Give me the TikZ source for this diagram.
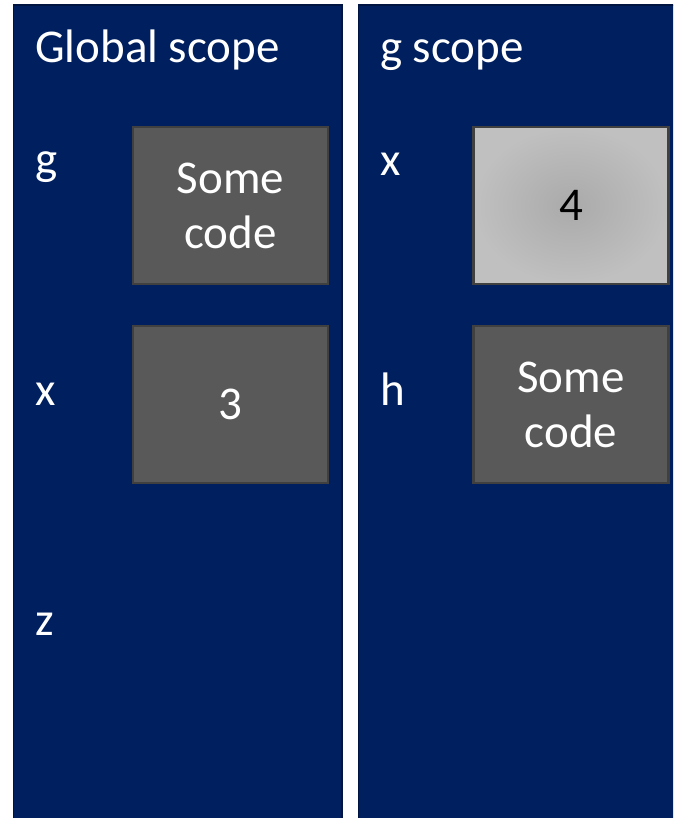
\documentclass[tikz,border=0pt]{standalone}
\usepackage{fontspec}
\setmainfont{Carlito}
\definecolor{panelblue}{RGB}{0,31,94}
\definecolor{paneledge}{RGB}{0,20,66}
\definecolor{boxgray}{RGB}{89,89,89}
\definecolor{boxedge}{RGB}{64,64,64}
\definecolor{lightin}{RGB}{170,170,170}
\definecolor{lightout}{RGB}{192,192,192}
\tikzset{
  panel/.style={fill=panelblue, draw=paneledge, line width=1.5pt},
  valbox/.style={draw=boxedge, fill=boxgray, line width=2.5pt, minimum width=195pt, minimum height=157pt, inner sep=0pt, text=white, align=center, font=\fontsize{47}{55}\selectfont},
  litbox/.style={valbox, fill=none, shading=radial, inner color=lightin, outer color=lightout, text=black},
  lbl/.style={anchor=base west, inner sep=0pt, text=white, font=\fontsize{47}{55}\selectfont}
}
\begin{document}
\begin{tikzpicture}[x=1pt,y=1pt]
\useasboundingbox (0,0) rectangle (673,818);
\clip (0,0) rectangle (673,818);
% panels
\draw[panel] (13.5,813) rectangle (342,-10);
\draw[panel] (358.5,813) rectangle (690,-10);
% left panel
\node[lbl] (gtitle) at (35,755) {Global scope};
\node[lbl] (lg) at (35,643) {g};
\node[lbl] (lx) at (35,412) {x};
\node[lbl] (lz) at (35,182) {z};
\node[valbox] (gcode) at (230.5,612.5) {Some\\code};
\node[valbox] (xval) at (230.5,413.5) {3};
% right panel
\node[lbl] (stitle) at (380,755) {g scope};
\node[lbl] (rx) at (380,642) {x};
\node[lbl] (rh) at (380,412) {h};
\node[litbox] (xloc) at (571,612.5) {4};
\node[valbox] (hcode) at (571,413.5) {Some\\code};
\end{tikzpicture}
\end{document}
